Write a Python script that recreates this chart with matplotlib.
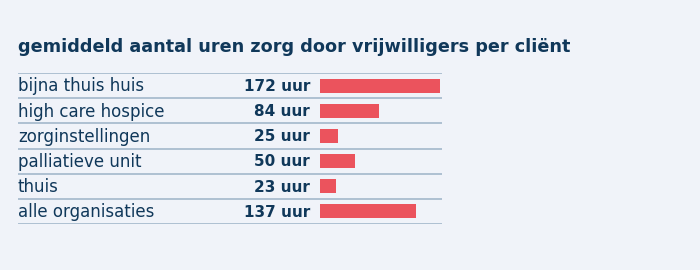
import matplotlib
matplotlib.use("Agg")
import matplotlib.pyplot as plt

categories = ["bijna thuis huis", "high care hospice", "zorginstellingen",
              "palliatieve unit", "thuis", "alle organisaties"]
values = [172, 84, 25, 50, 23, 137]
value_labels = ["172 uur", "84 uur", "25 uur", "50 uur", "23 uur", "137 uur"]
title = "gemiddeld aantal uren zorg door vrijwilligers per cliënt"

BG = "#F0F3F9"
NAVY = "#10385A"
RED = "#EB535D"
LINE = "#A8BCCE"

W, H = 700, 270
fig = plt.figure(figsize=(W / 100, H / 100), dpi=100, facecolor=BG)
plt.rcParams['font.family'] = ['DejaVu Sans']

# axes in pixel coordinates
left, right, top, bottom = 18, 442, 73, 224
ax = fig.add_axes([left / W, 1 - bottom / H, (right - left) / W, (bottom - top) / H])
ax.set_facecolor(BG)
for s in ax.spines.values():
    s.set_visible(False)
ax.set_xticks([])
ax.set_yticks([])

px_per_unit = 0.70
bar_start = 320
xmin = -(bar_start - left) / px_per_unit
xmax = (right - bar_start) / px_per_unit
ax.set_xlim(xmin, xmax)
n = len(categories)
ax.set_ylim(n - 0.5, -0.5)

ys = list(range(n))
ax.barh(ys, values, height=0.56, color=RED, left=0)

for b in [i - 0.5 for i in range(n + 1)]:
    ax.axhline(b, color=LINE, lw=1.3, zorder=0)

val_x = -(bar_start - 310) / px_per_unit
for y, cat, lab in zip(ys, categories, value_labels):
    ax.text(xmin, y + 0.03, cat, ha="left", va="center", fontsize=12,
            color=NAVY)
    ax.text(val_x, y + 0.03, lab, ha="right", va="center", fontsize=11,
            color=NAVY, fontweight="bold")

fig.text(left / W, 1 - 47 / H, title, ha="left", va="center", fontsize=12.7,
         fontweight="bold", color=NAVY)

fig.savefig("out.png", dpi=100, facecolor=BG)
